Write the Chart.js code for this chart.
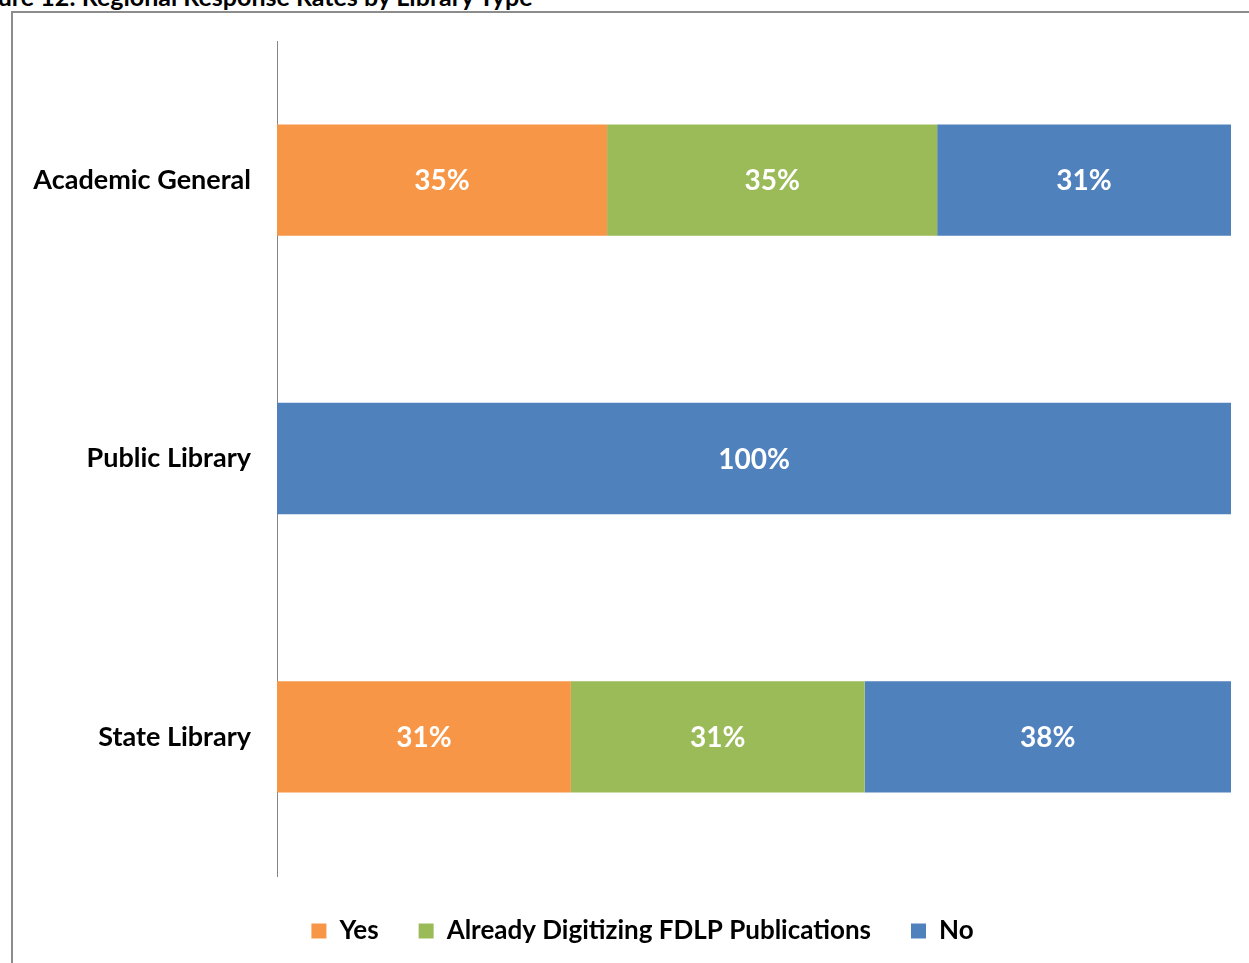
<!DOCTYPE html>
<html>
<head>
<meta charset="utf-8">
<script src="https://cdn.jsdelivr.net/npm/chart.js@4"></script>
<style>
  html, body { margin: 0; padding: 0; background: #fff; overflow: hidden; }
  #title { position: absolute; left: -36px; top: -19px; font: bold 25px Lato, sans-serif; color: #000; white-space: nowrap; }
  #frame { position: absolute; left: 11px; top: 11px; width: 1300px; height: 1000px; border: 2px solid #8c8c8c; box-sizing: border-box; }
  #wrap { position: absolute; left: 0; top: 0; width: 1249px; height: 963px; }
</style>
</head>
<body>
<div id="title">Figure 12: Regional Response Rates by Library Type</div>
<div id="frame"></div>
<div id="wrap"><canvas id="chart"></canvas></div>
<script>
const categories = ['Academic General', 'Public Library', 'State Library'];
const yesValues = [34.6, 0, 30.8];
const digitizingValues = [34.6, 0, 30.8];
const noValues = [30.8, 100, 38.4];

const fontFamily = 'Lato, "Open Sans", sans-serif';

// white percentage labels in the middle of each segment
const barLabels = {
  id: 'barLabels',
  afterDatasetsDraw(chart) {
    const ctx = chart.ctx;
    ctx.save();
    ctx.fillStyle = '#ffffff';
    ctx.font = `bold 28px ${fontFamily}`;
    ctx.textAlign = 'center';
    ctx.textBaseline = 'middle';
    chart.data.datasets.forEach((ds, i) => {
      const meta = chart.getDatasetMeta(i);
      meta.data.forEach((bar, j) => {
        const v = ds.data[j];
        if (!v) return;
        const p = bar.getCenterPoint();
        ctx.fillText(`${Math.round(v)}%`, p.x, p.y + 1);
      });
    });
    ctx.restore();
  },
};

// legend in the original sits a bit right of the canvas centre
const legendShift = {
  id: 'legendShift',
  afterLayout(chart) {
    if (!chart.legend) return;
    chart.legend.left += 54;
    chart.legend.top += 2;
    chart.legend.bottom += 2;
  },
};

new Chart(document.getElementById('chart'), {
  type: 'bar',
  data: {
    labels: categories,
    datasets: [
      { label: 'Yes', data: yesValues, backgroundColor: '#F79646' },
      { label: 'Already Digitizing FDLP Publications', data: digitizingValues, backgroundColor: '#9BBB59' },
      { label: 'No', data: noValues, backgroundColor: '#4F81BD' },
    ],
  },
  options: {
    indexAxis: 'y',
    responsive: true,
    maintainAspectRatio: false,
    animation: false,
    layout: { padding: { top: 41, right: 18, bottom: 11, left: 0 } },
    datasets: { bar: { barPercentage: 0.4, categoryPercentage: 1.0 } },
    plugins: {
      legend: {
        position: 'bottom',
        labels: {
          color: '#000',
          font: { family: fontFamily, size: 26, weight: 'bold' },
          boxWidth: 15,
          boxHeight: 15,
          padding: 40,
        },
      },
      tooltip: { enabled: false },
    },
    scales: {
      x: { stacked: true, min: 0, max: 100, display: false },
      y: {
        stacked: true,
        grid: { display: false },
        border: { display: true, color: '#868686', width: 1 },
        ticks: { color: '#000', padding: 18, font: { family: fontFamily, size: 27, weight: 'bold' } },
        afterFit(scale) { scale.width = 277; },
      },
    },
  },
  plugins: [barLabels, legendShift],
});
</script>
</body>
</html>
